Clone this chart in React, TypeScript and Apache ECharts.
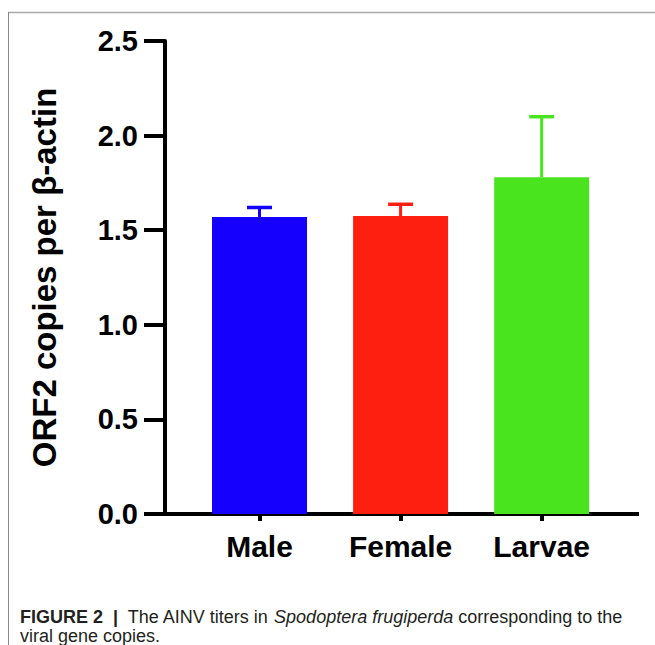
import React, { useEffect, useRef } from "react";
import * as echarts from "echarts";

const categories = ["Male", "Female", "Larvae"];
const means = [1.57, 1.575, 1.78];
const upperErrors = [1.62, 1.637, 2.1];
const barColors = ["#1500fe", "#fe1f10", "#4ae41f"];
const yTicks = [0, 0.5, 1.0, 1.5, 2.0, 2.5];
const yAxisName = "ORF2 copies per β-actin";
const captionBold = "FIGURE 2  |";
const captionLine1 = "  The AINV titers in ";
const captionItalic = "Spodoptera frugiperda";
const captionLine1End = " corresponding to the";
const captionLine2 = "viral gene copies.";

const FONT = "'Liberation Sans', Arial, Helvetica, sans-serif";

export default function App() {
  const ref = useRef<HTMLDivElement>(null);
  useEffect(() => {
    if (!ref.current) return;
    const chart = echarts.init(ref.current, null, { renderer: "svg" });
    const idx = categories.map((_, i) => i);
    chart.setOption({
      animation: false,
      backgroundColor: "#ffffff",
      grid: { left: 165, right: 16, top: 41, bottom: 131, containLabel: false },
      xAxis: {
        type: "value",
        min: -0.67,
        max: 2.69,
        splitLine: { show: false },
        axisLine: { show: true, onZero: false, lineStyle: { color: "#000", width: 4, cap: "butt" } },
        axisTick: { show: true, customValues: idx, length: 7, lineStyle: { color: "#000", width: 4 } },
        axisLabel: {
          customValues: idx,
          formatter: (v: number) => categories[Math.round(v)] ?? "",
          color: "#000",
          fontFamily: FONT,
          fontWeight: "bold",
          fontSize: 30,
          margin: 17,
        },
      },
      yAxis: {
        type: "value",
        min: yTicks[0],
        max: yTicks[yTicks.length - 1],
        interval: 0.5,
        name: yAxisName,
        nameLocation: "middle",
        nameGap: 104,
        nameTextStyle: { color: "#000", fontFamily: FONT, fontWeight: "bold", fontSize: 33 },
        splitLine: { show: false },
        axisLine: { show: true, onZero: false, lineStyle: { color: "#000", width: 4 } },
        axisTick: { show: true, length: 21, lineStyle: { color: "#000", width: 4 } },
        axisLabel: {
          formatter: (v: number) => v.toFixed(1),
          color: "#000",
          fontFamily: FONT,
          fontWeight: "bold",
          fontSize: 29,
          margin: 27,
        },
      },
      series: [
        {
          type: "custom",
          z: 1,
          renderItem: (params: any, api: any) => {
            const i = api.value(0);
            const top = api.coord([i, api.value(2)]);
            const base = api.coord([i, api.value(1)]);
            const half = 12.5;
            const color = barColors[params.dataIndex];
            return {
              type: "group",
              children: [
                {
                  type: "line",
                  shape: { x1: base[0], y1: base[1], x2: top[0], y2: top[1] },
                  style: { stroke: color, lineWidth: 3 },
                },
                {
                  type: "line",
                  shape: { x1: top[0] - half, y1: top[1], x2: top[0] + half, y2: top[1] },
                  style: { stroke: color, lineWidth: 3.5 },
                },
              ],
            };
          },
          data: idx.map((i) => [i, means[i], upperErrors[i]]),
        },
        {
          type: "bar",
          z: 2,
          barWidth: 95,
          data: idx.map((i) => ({ value: [i, means[i]], itemStyle: { color: barColors[i] } })),
        },
      ],
      graphic: [
        { type: "line", shape: { x1: 8, y1: 12.5, x2: 655, y2: 12.5 }, style: { stroke: "#a9a9a9", lineWidth: 1.5 } },
        { type: "line", shape: { x1: 8.5, y1: 12, x2: 8.5, y2: 645 }, style: { stroke: "#8a8a8a", lineWidth: 1 } },
        {
          type: "text",
          x: 20,
          y: 617,
          style: {
            text: `{b|${captionBold}}{r|${captionLine1}}{i|${captionItalic}}{r|${captionLine1End}}`,
            verticalAlign: "middle",
            rich: {
              b: { fontFamily: FONT, fontWeight: "bold", fontSize: 18, fill: "#231f20" },
              r: { fontFamily: FONT, fontSize: 18, fill: "#231f20" },
              i: { fontFamily: FONT, fontStyle: "italic", fontSize: 18, fill: "#231f20" },
            },
          },
        },
        {
          type: "text",
          x: 20,
          y: 636,
          style: {
            text: captionLine2,
            verticalAlign: "middle",
            fontFamily: FONT,
            fontSize: 18,
            fill: "#231f20",
          },
        },
      ],
    });
    return () => chart.dispose();
  }, []);
  return <div ref={ref} style={{ position: "fixed", left: 0, top: 0, width: 655, height: 645 }} />;
}
